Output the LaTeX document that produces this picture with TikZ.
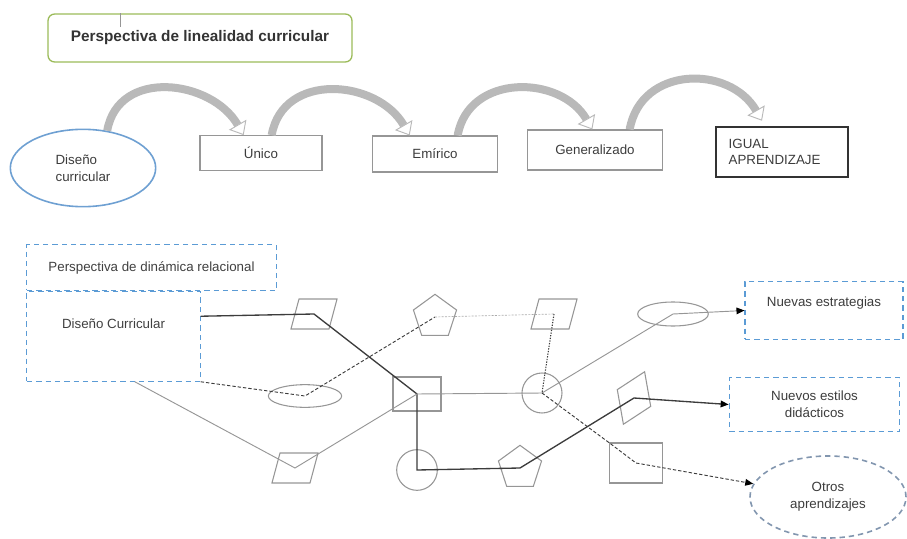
\documentclass[tikz,border=0pt]{standalone}
\usepackage{fontspec}
\setmainfont{Liberation Sans}
\usetikzlibrary{shapes.geometric,arrows.meta,positioning}

\definecolor{boxgreen}{RGB}{155,187,89}
\definecolor{ovalblue}{RGB}{110,160,210}
\definecolor{dashblue}{RGB}{91,155,213}
\definecolor{ovalgray}{RGB}{130,150,175}
\definecolor{shapegray}{RGB}{150,150,150}
\definecolor{linedark}{RGB}{60,60,60}
\definecolor{textgray}{RGB}{60,60,60}

\begin{document}
\begin{tikzpicture}[x=0.75pt,y=-0.75pt,
    every node/.style={font=\fontsize{10}{12.5}\selectfont, text=textgray}]
      \tikzset{stagebox/.style={draw=shapegray, line width=0.8pt, minimum height=26pt},
        dashbox/.style={draw=dashblue, line width=0.8pt, dash pattern=on 4pt off 3pt},
        figshape/.style={draw=shapegray, line width=0.8pt, inner sep=0pt},
        para/.style={figshape, inner sep=1pt, trapezium, trapezium left angle=75, trapezium right angle=105,
          minimum width=32pt, minimum height=22.5pt},
        penta/.style={figshape, regular polygon, regular polygon sides=5, minimum size=34pt},
        bigarrow/.style={draw=gray!55, line width=6pt,
          -{Triangle[fill=white, line width=0.7pt, length=9pt, width=15pt]}},
        darkline/.style={draw=linedark, line width=1pt},
        grayline/.style={draw=shapegray, line width=0.7pt},
        dashline/.style={draw=linedark, line width=0.7pt, dash pattern=on 2.5pt off 1.5pt},
        dotline/.style={draw=linedark, line width=0.8pt, dash pattern=on 1pt off 1pt},
        faintline/.style={draw=shapegray!80, line width=0.5pt, dash pattern=on 1.5pt off 1pt},
        tip/.style={-{Triangle[color=black, length=6pt, width=5pt]}}}
      \useasboundingbox (0,0) rectangle (907,539);
%% Linear perspective
      	\node[draw=boxgreen, line width=1pt, rounded corners=5pt, minimum width=228pt, minimum height=36pt,
      	  font=\bfseries\fontsize{11.5}{13}\selectfont, text=black!80] (lineal) at (200,38) {Perspectiva de linealidad curricular};
      	\draw[shapegray, line width=0.6pt] ([xshift=55pt]lineal.north west) -- ++(0,14);
      	\node[draw=ovalblue, line width=1.2pt, ellipse, minimum width=109pt, minimum height=58pt, align=left] (dis) at (83,168) {Diseño\\curricular};
      	\node[stagebox, minimum width=91.5pt] (unico) at (261,153) {Único};
      	\node[stagebox, minimum width=94pt, minimum height=27pt] (empirico) at (435,154) {Emírico};
      	\node[stagebox, minimum width=101pt, minimum height=30pt] (gen) at (595,150) {Generalizado};
      	\node[draw=black!80, line width=1.4pt, minimum width=99pt, minimum height=37.5pt, text width=80pt, align=left] (igual) at (782,152) {IGUAL\\APRENDIZAJE};
%Curved arrows
		\draw[bigarrow] (dis.57) to[out=80, in=120, looseness=1.2] ([xshift=-13pt]unico.north);
		\draw[bigarrow] ([xshift=8pt]unico.north) to[out=80, in=120, looseness=1.2] ([xshift=-19pt]empirico.north);
		\draw[bigarrow] ([xshift=17pt]empirico.north) to[out=80, in=120, looseness=1.2] ([xshift=-2pt]gen.north);
		\draw[bigarrow] ([xshift=26pt]gen.north) to[out=80, in=120, looseness=1.25] ([xshift=-15pt,yshift=4pt]igual.north);
%% Relational perspective
      	\node[dashbox, minimum width=187pt, minimum height=34pt, text=black!75] (dinrel) at (151.5,267.5) {Perspectiva de dinámica relacional};
      	\node[dashbox, anchor=north west, minimum width=130pt, minimum height=67.5pt, text depth=19pt, text=black!75] (dc) at (dinrel.south west) {Diseño Curricular};
      	\node[para] (p1) at (314,314) {};
      	\node[penta] (pe1) at (435,317) {};
      	\node[para] (p2) at (554,314) {};
      	\node[figshape, ellipse, minimum width=53pt, minimum height=18pt] (e2) at (673,314) {};
      	\node[figshape, ellipse, minimum width=55pt, minimum height=17pt] (e1) at (305,396) {};
      	\node[figshape, minimum width=36pt, minimum height=25.5pt] (s1) at (417,394) {};
      	\node[figshape, circle, minimum size=30pt] (c1) at (542,393) {};
      	\node[para, trapezium left angle=120, trapezium right angle=60, trapezium stretches=true,
      	  minimum width=36pt, rotate=100] (p4) at (634,398) {};
      	\node[para] (p3) at (295,468) {};
      	\node[figshape, circle, minimum size=30.5pt] (c2) at (417,470) {};
      	\node[penta] (pe2) at (520,468) {};
      	\node[figshape, minimum width=40pt, minimum height=30pt] (s2) at (636,463) {};
      	\node[dashbox, minimum width=118.5pt, minimum height=43pt, text depth=13pt] (ne) at (824,310.5) {Nuevas estrategias};
      	\node[dashbox, minimum width=128pt, minimum height=40pt, align=center] (nd) at (814.5,404.5) {Nuevos estilos\\didácticos};
      	\node[dashbox, draw=ovalgray, line width=1.2pt, ellipse, minimum width=117pt, minimum height=61.5pt, align=center] (ot) at (828,497) {Otros\\aprendizajes};
%Edges
		\draw[darkline, tip] ([yshift=15pt]dc.east) -- (p1.center) -- (s1.center) -- (c2.center) -- (pe2.center) -- (p4.center) -- (nd.west);
		\draw[grayline, tip] ([xshift=16pt]dc.south) -- (p3.center) -- (s1.center) -- (c1.center) -- (e2.center) -- (ne.west);
		\draw[dashline] (dc.south east) -- (e1.center) -- (pe1.center);
		\draw[faintline] (pe1.center) -- (p2.center);
		\draw[dotline] (p2.center) -- (c1.center);
		\draw[dashline, tip] (c1.center) -- (s2.north west) -- (s2.center) -- (ot);
	\end{tikzpicture}
\end{document}
